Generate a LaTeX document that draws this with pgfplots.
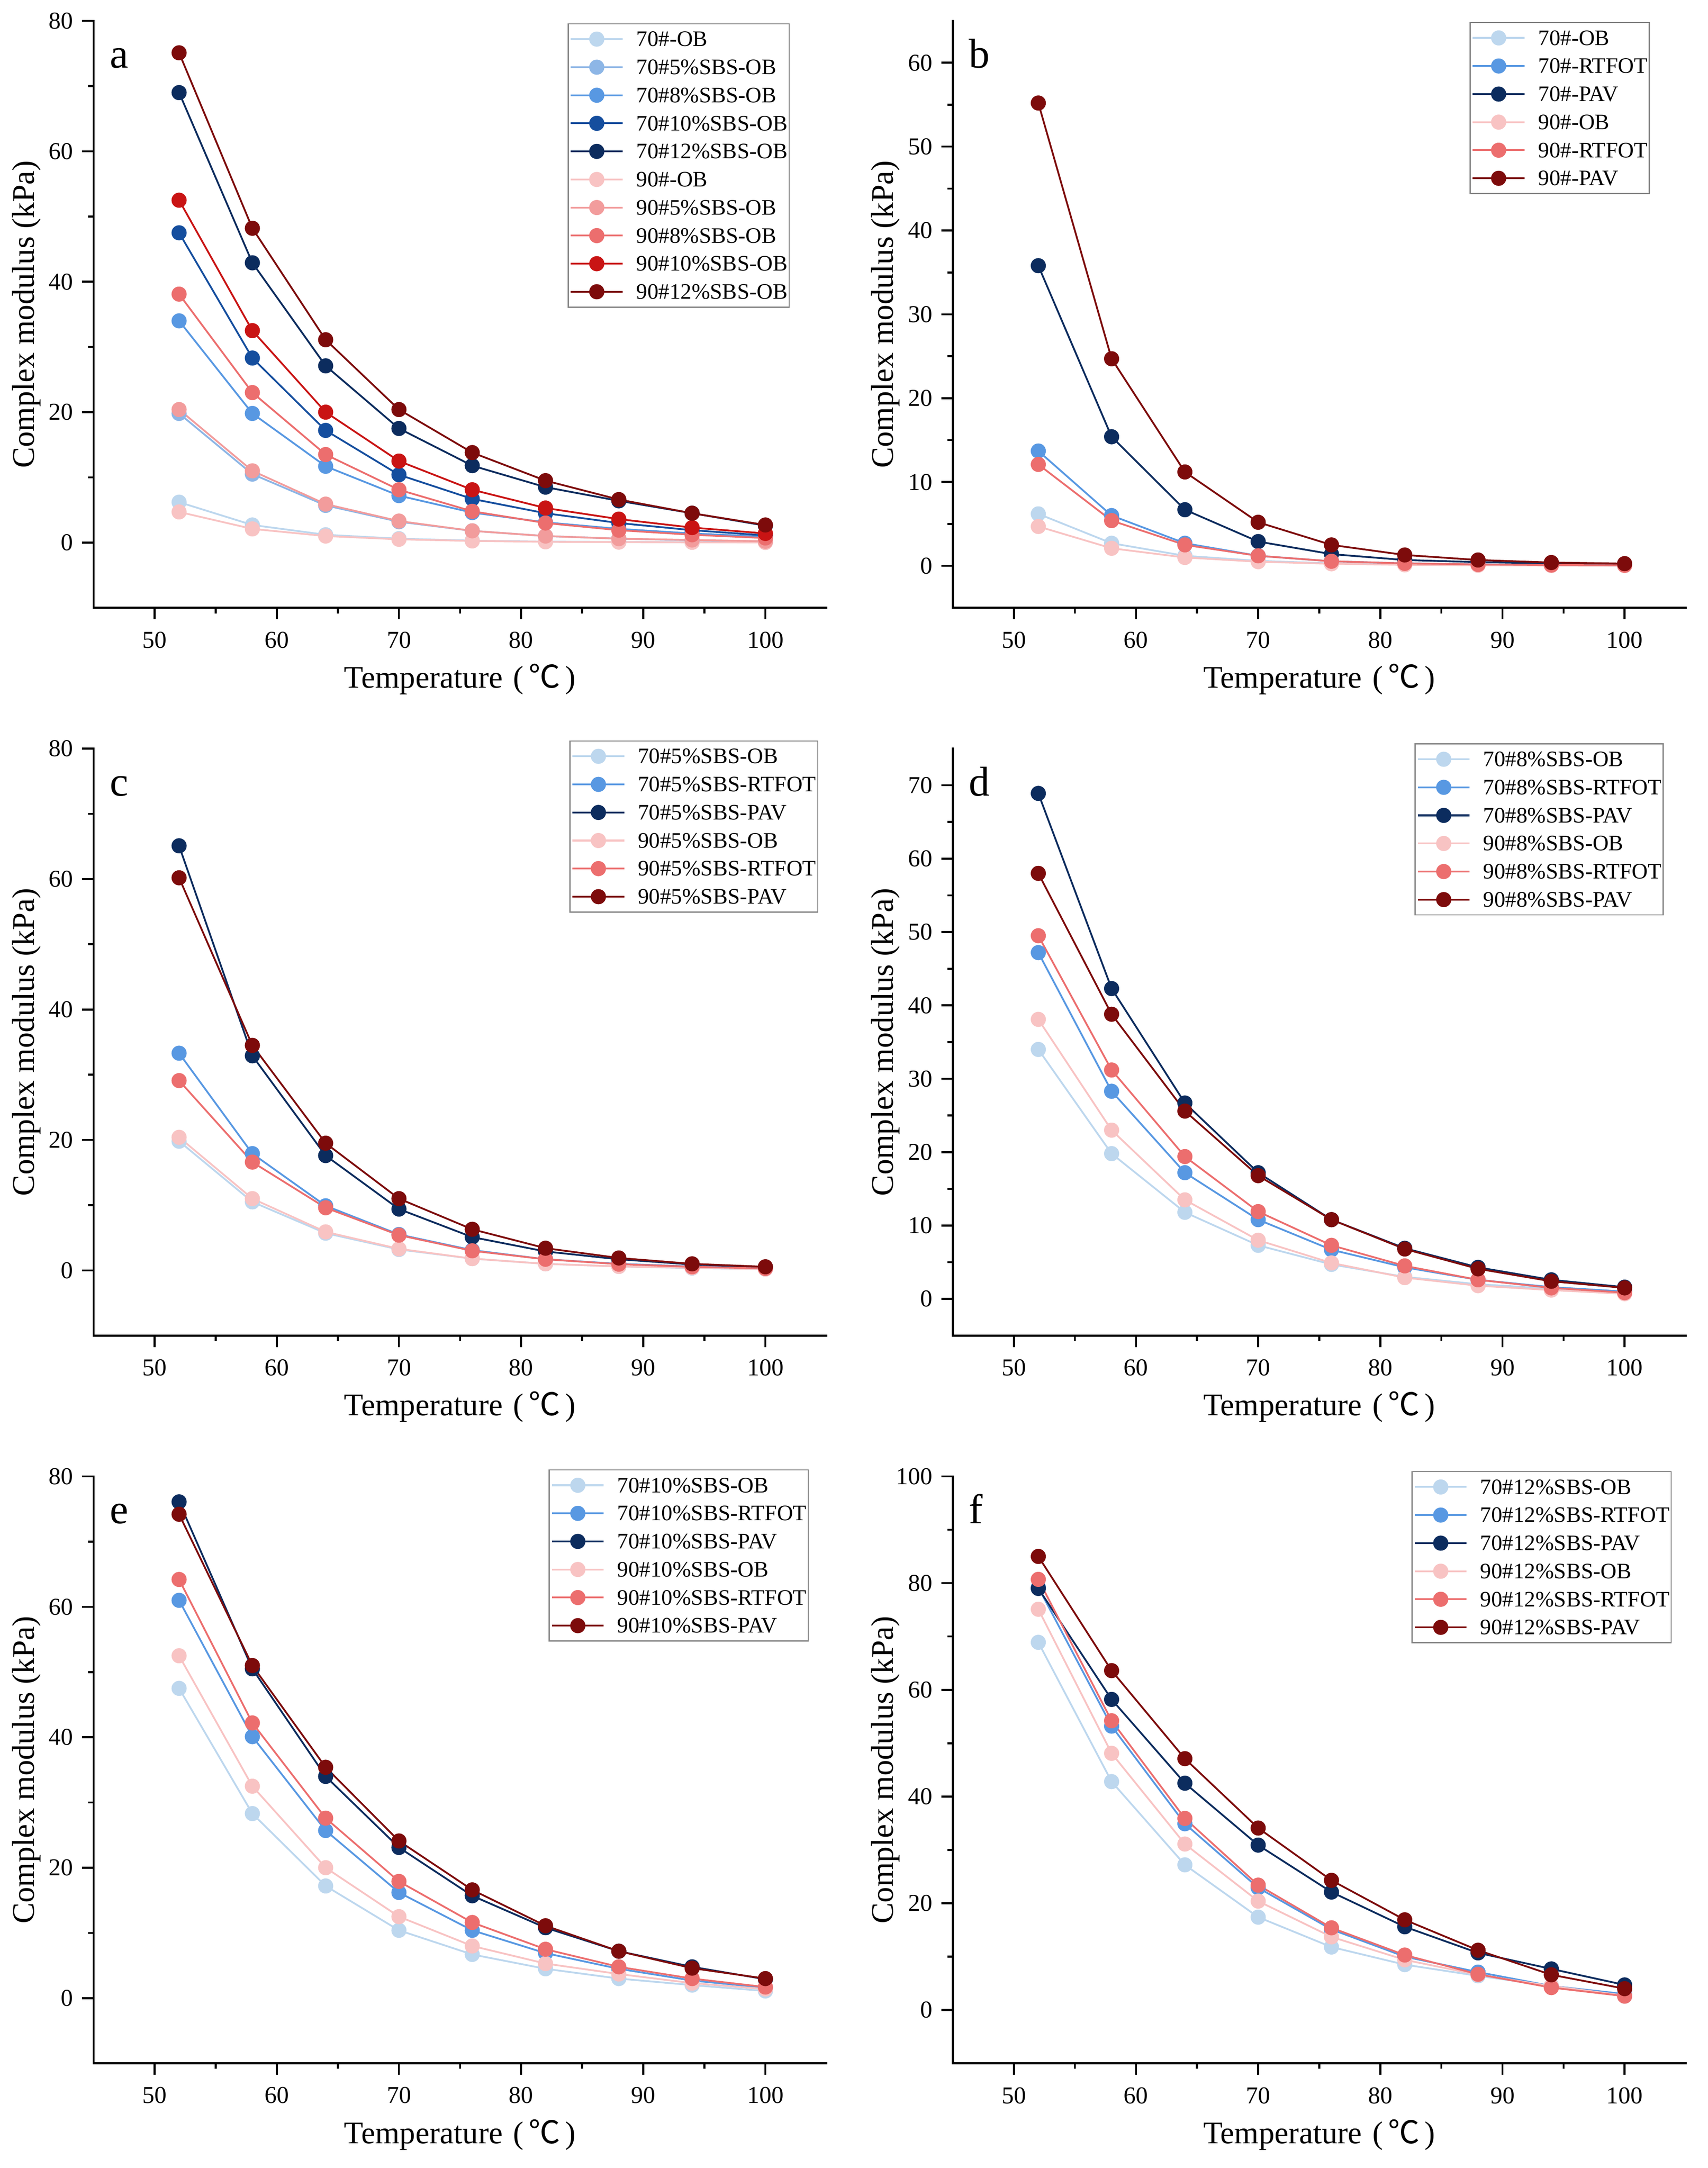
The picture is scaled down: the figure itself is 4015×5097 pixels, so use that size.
\documentclass[border=0pt]{standalone}
\usepackage{fontspec}
\setmainfont{Liberation Serif}
\newfontfamily\cjk{Noto Sans CJK SC}
\usepackage{pgfplots}
\pgfplotsset{compat=1.18}

\definecolor{b1}{HTML}{BDD7EE}
\definecolor{b2}{HTML}{8DB6E6}
\definecolor{b3}{HTML}{5898E2}
\definecolor{b4}{HTML}{154E9E}
\definecolor{b5}{HTML}{0C2C5E}
\definecolor{r1}{HTML}{F8C3C3}
\definecolor{r2}{HTML}{F29C9C}
\definecolor{r3}{HTML}{EC6E6E}
\definecolor{r4}{HTML}{C91414}
\definecolor{r5}{HTML}{7D0B0B}

\pgfplotsset{
  ser/.style={color=#1, line width=4.2pt, mark=*, mark size=17.5pt,
    mark options={solid, fill=#1, draw=#1, line width=0.5pt}},
  panel/.style={
    anchor=south west,
    scale only axis, width=1723pt, height=1380pt,
    axis lines*=left,
    xmin=45, xmax=105,
    xtick={50,60,...,100}, minor x tick num=1,
    tick align=outside,
    major tick length=27pt, minor tick length=13pt,
    every tick/.style={black, line width=4.7pt},
    axis line style={black, line width=4.7pt, line cap=rect},
    /pgf/number format/assume math mode=true,
    tick label style={font=\fontsize{57}{68}\selectfont},
    yticklabel style={inner sep=0pt, xshift=-21pt},
    xticklabel style={inner sep=0pt, yshift=-29pt},
    label style={font=\fontsize{74}{88}\selectfont},
    xlabel={Temperature\hspace{6pt} (\hspace{12pt}{\cjk ℃}\hspace{12pt})},
    ylabel={Complex modulus (kPa)},
    xlabel style={at={(axis description cs:0.5,-0.1217)}, anchor=center},
    ylabel style={at={(axis description cs:-0.0917,0.5)}, anchor=center, rotate=0},
    legend cell align=left,
    legend style={draw=gray, line width=2.7pt, fill=white,
      inner xsep=4pt, inner ysep=3pt,
      font=\fontsize{52}{62}\selectfont,
      nodes={inner xsep=0pt, inner ysep=0pt, text height=50pt, text depth=16pt},
      /tikz/every odd column/.append style={column sep=30pt}},
    legend image code/.code={\draw[mark repeat=2,mark phase=2,#1] plot coordinates {(0pt,0pt) (61pt,0pt) (122pt,0pt)};},
  }
}
\newcommand{\plab}[1]{\node[anchor=base west, font=\fontsize{98}{110}\selectfont, inner sep=0pt] at (rel axis cs:0.022,0.9196) {#1};}

\begin{document}
\begin{tikzpicture}
\path[use as bounding box] (0,0) rectangle (4015pt,5097pt);

% ---------------- a ----------------
\begin{axis}[panel, at={(220pt,3668pt)}, ymin=-10, ymax=80, ytick={0,20,...,80}, minor y tick num=1,
  legend style={at={(0.950,0.996)}, anchor=north east}]
\addplot[ser=b1] coordinates {(52,6.2) (58,2.7) (64,1.2) (70,0.6) (76,0.3) (82,0.15) (88,0.1) (94,0.06) (100,0.04)};
\addlegendentry{70\#-OB}
\addplot[ser=b2] coordinates {(52,19.8) (58,10.5) (64,5.7) (70,3.2) (76,1.8) (82,1.0) (88,0.6) (94,0.35) (100,0.2)};
\addlegendentry{70\#5\%SBS-OB}
\addplot[ser=b3] coordinates {(52,34.0) (58,19.8) (64,11.7) (70,7.2) (76,4.6) (82,3.1) (88,2.1) (94,1.4) (100,0.9)};
\addlegendentry{70\#8\%SBS-OB}
\addplot[ser=b4] coordinates {(52,47.5) (58,28.3) (64,17.2) (70,10.4) (76,6.7) (82,4.5) (88,3.0) (94,1.9) (100,1.1)};
\addlegendentry{70\#10\%SBS-OB}
\addplot[ser=b5] coordinates {(52,69.0) (58,42.9) (64,27.1) (70,17.5) (76,11.8) (82,8.5) (88,6.4) (94,4.5) (100,2.6)};
\addlegendentry{70\#12\%SBS-OB}
\addplot[ser=r1] coordinates {(52,4.7) (58,2.1) (64,1.0) (70,0.5) (76,0.25) (82,0.12) (88,0.07) (94,0.04) (100,0.02)};
\addlegendentry{90\#-OB}
\addplot[ser=r2] coordinates {(52,20.4) (58,11.0) (64,5.9) (70,3.3) (76,1.8) (82,1.0) (88,0.6) (94,0.4) (100,0.2)};
\addlegendentry{90\#5\%SBS-OB}
\addplot[ser=r3] coordinates {(52,38.1) (58,23.0) (64,13.5) (70,8.1) (76,4.8) (82,3.0) (88,1.9) (94,1.2) (100,0.7)};
\addlegendentry{90\#8\%SBS-OB}
\addplot[ser=r4] coordinates {(52,52.5) (58,32.5) (64,20.0) (70,12.5) (76,8.1) (82,5.3) (88,3.6) (94,2.3) (100,1.4)};
\addlegendentry{90\#10\%SBS-OB}
\addplot[ser=r5] coordinates {(52,75.1) (58,48.2) (64,31.1) (70,20.4) (76,13.8) (82,9.5) (88,6.6) (94,4.5) (100,2.7)};
\addlegendentry{90\#12\%SBS-OB}
\plab{a}
\end{axis}

% ---------------- b ----------------
\begin{axis}[panel, at={(2240pt,3668pt)}, ymin=-5, ymax=65, ytick={0,10,...,60}, minor y tick num=1,
  legend style={at={(0.951,0.998)}, anchor=north east}]
\addplot[ser=b1] coordinates {(52,6.2) (58,2.7) (64,1.2) (70,0.6) (76,0.3) (82,0.15) (88,0.1) (94,0.06) (100,0.04)};
\addlegendentry{70\#-OB}
\addplot[ser=b3] coordinates {(52,13.7) (58,6.0) (64,2.7) (70,1.2) (76,0.55) (82,0.3) (88,0.18) (94,0.12) (100,0.1)};
\addlegendentry{70\#-RTFOT}
\addplot[ser=b5] coordinates {(52,35.8) (58,15.4) (64,6.7) (70,2.9) (76,1.4) (82,0.7) (88,0.45) (94,0.3) (100,0.2)};
\addlegendentry{70\#-PAV}
\addplot[ser=r1] coordinates {(52,4.7) (58,2.1) (64,1.0) (70,0.5) (76,0.25) (82,0.12) (88,0.07) (94,0.04) (100,0.02)};
\addlegendentry{90\#-OB}
\addplot[ser=r3] coordinates {(52,12.1) (58,5.4) (64,2.5) (70,1.2) (76,0.55) (82,0.3) (88,0.17) (94,0.1) (100,0.08)};
\addlegendentry{90\#-RTFOT}
\addplot[ser=r5] coordinates {(52,55.2) (58,24.7) (64,11.2) (70,5.2) (76,2.5) (82,1.3) (88,0.7) (94,0.4) (100,0.27)};
\addlegendentry{90\#-PAV}
\plab{b}
\end{axis}

% ---------------- c ----------------
\begin{axis}[panel, at={(220pt,1957pt)}, ymin=-10, ymax=80, ytick={0,20,...,80}, minor y tick num=1,
  legend style={at={(0.989,1.014)}, anchor=north east}]
\addplot[ser=b1] coordinates {(52,19.8) (58,10.5) (64,5.7) (70,3.2) (76,1.8) (82,1.0) (88,0.6) (94,0.35) (100,0.2)};
\addlegendentry{70\#5\%SBS-OB}
\addplot[ser=b3] coordinates {(52,33.3) (58,17.9) (64,9.9) (70,5.5) (76,3.1) (82,1.7) (88,1.0) (94,0.6) (100,0.35)};
\addlegendentry{70\#5\%SBS-RTFOT}
\addplot[ser=b5] coordinates {(52,65.1) (58,32.9) (64,17.6) (70,9.4) (76,5.1) (82,2.9) (88,1.7) (94,0.9) (100,0.5)};
\addlegendentry{70\#5\%SBS-PAV}
\addplot[ser=r1] coordinates {(52,20.4) (58,11.0) (64,5.9) (70,3.3) (76,1.8) (82,1.0) (88,0.6) (94,0.4) (100,0.2)};
\addlegendentry{90\#5\%SBS-OB}
\addplot[ser=r3] coordinates {(52,29.1) (58,16.6) (64,9.6) (70,5.4) (76,3.0) (82,1.7) (88,0.95) (94,0.55) (100,0.3)};
\addlegendentry{90\#5\%SBS-RTFOT}
\addplot[ser=r5] coordinates {(52,60.2) (58,34.5) (64,19.5) (70,11.0) (76,6.3) (82,3.4) (88,1.9) (94,1.0) (100,0.55)};
\addlegendentry{90\#5\%SBS-PAV}
\plab{c}
\end{axis}

% ---------------- d ----------------
\begin{axis}[panel, at={(2240pt,1957pt)}, ymin=-5, ymax=75, ytick={0,10,...,70}, minor y tick num=1,
  legend style={at={(0.970,1.009)}, anchor=north east}]
\addplot[ser=b1] coordinates {(52,34.0) (58,19.8) (64,11.8) (70,7.3) (76,4.7) (82,3.0) (88,2.0) (94,1.4) (100,1.0)};
\addlegendentry{70\#8\%SBS-OB}
\addplot[ser=b3] coordinates {(52,47.2) (58,28.3) (64,17.2) (70,10.8) (76,6.7) (82,4.3) (88,2.6) (94,1.6) (100,1.0)};
\addlegendentry{70\#8\%SBS-RTFOT}
\addplot[ser=b5] coordinates {(52,68.9) (58,42.3) (64,26.7) (70,17.2) (76,10.8) (82,6.9) (88,4.3) (94,2.6) (100,1.6)};
\addlegendentry{70\#8\%SBS-PAV}
\addplot[ser=r1] coordinates {(52,38.1) (58,23.0) (64,13.5) (70,8.0) (76,4.9) (82,2.9) (88,1.8) (94,1.2) (100,0.7)};
\addlegendentry{90\#8\%SBS-OB}
\addplot[ser=r3] coordinates {(52,49.5) (58,31.2) (64,19.4) (70,11.9) (76,7.3) (82,4.5) (88,2.6) (94,1.5) (100,0.85)};
\addlegendentry{90\#8\%SBS-RTFOT}
\addplot[ser=r5] coordinates {(52,58.0) (58,38.8) (64,25.6) (70,16.8) (76,10.8) (82,6.8) (88,4.1) (94,2.4) (100,1.5)};
\addlegendentry{90\#8\%SBS-PAV}
\plab{d}
\end{axis}

% ---------------- e ----------------
\begin{axis}[panel, at={(220pt,246pt)}, ymin=-10, ymax=80, ytick={0,20,...,80}, minor y tick num=1,
  legend style={at={(0.976,1.012)}, anchor=north east}]
\addplot[ser=b1] coordinates {(52,47.5) (58,28.3) (64,17.2) (70,10.4) (76,6.7) (82,4.5) (88,3.0) (94,2.0) (100,1.1)};
\addlegendentry{70\#10\%SBS-OB}
\addplot[ser=b3] coordinates {(52,61.0) (58,40.1) (64,25.7) (70,16.2) (76,10.4) (82,6.9) (88,4.5) (94,2.7) (100,1.6)};
\addlegendentry{70\#10\%SBS-RTFOT}
\addplot[ser=b5] coordinates {(52,76.1) (58,50.5) (64,34.0) (70,23.1) (76,15.7) (82,10.8) (88,7.2) (94,4.8) (100,2.9)};
\addlegendentry{70\#10\%SBS-PAV}
\addplot[ser=r1] coordinates {(52,52.5) (58,32.5) (64,20.0) (70,12.5) (76,8.0) (82,5.3) (88,3.7) (94,2.3) (100,1.4)};
\addlegendentry{90\#10\%SBS-OB}
\addplot[ser=r3] coordinates {(52,64.2) (58,42.2) (64,27.6) (70,17.9) (76,11.6) (82,7.5) (88,4.8) (94,3.0) (100,1.7)};
\addlegendentry{90\#10\%SBS-RTFOT}
\addplot[ser=r5] coordinates {(52,74.2) (58,51.0) (64,35.4) (70,24.1) (76,16.6) (82,11.1) (88,7.2) (94,4.6) (100,3.0)};
\addlegendentry{90\#10\%SBS-PAV}
\plab{e}
\end{axis}

% ---------------- f ----------------
\begin{axis}[panel, at={(2240pt,246pt)}, ymin=-10, ymax=100, ytick={0,20,...,100}, minor y tick num=1,
  legend style={at={(0.981,1.009)}, anchor=north east}]
\addplot[ser=b1] coordinates {(52,68.9) (58,42.8) (64,27.2) (70,17.4) (76,11.8) (82,8.5) (88,6.4) (94,4.5) (100,2.6)};
\addlegendentry{70\#12\%SBS-OB}
\addplot[ser=b3] coordinates {(52,79.2) (58,53.2) (64,34.9) (70,22.9) (76,15.1) (82,10.0) (88,7.1) (94,4.5) (100,3.0)};
\addlegendentry{70\#12\%SBS-RTFOT}
\addplot[ser=b5] coordinates {(52,79.0) (58,58.2) (64,42.5) (70,30.9) (76,22.1) (82,15.6) (88,10.7) (94,7.7) (100,4.7)};
\addlegendentry{70\#12\%SBS-PAV}
\addplot[ser=r1] coordinates {(52,75.1) (58,48.1) (64,31.1) (70,20.4) (76,13.7) (82,9.4) (88,6.6) (94,4.5) (100,2.7)};
\addlegendentry{90\#12\%SBS-OB}
\addplot[ser=r3] coordinates {(52,80.7) (58,54.2) (64,35.9) (70,23.4) (76,15.4) (82,10.3) (88,6.7) (94,4.2) (100,2.6)};
\addlegendentry{90\#12\%SBS-RTFOT}
\addplot[ser=r5] coordinates {(52,85.0) (58,63.6) (64,47.1) (70,34.1) (76,24.3) (82,16.9) (88,11.2) (94,6.6) (100,4.0)};
\addlegendentry{90\#12\%SBS-PAV}
\plab{f}
\end{axis}
\end{tikzpicture}
\end{document}
